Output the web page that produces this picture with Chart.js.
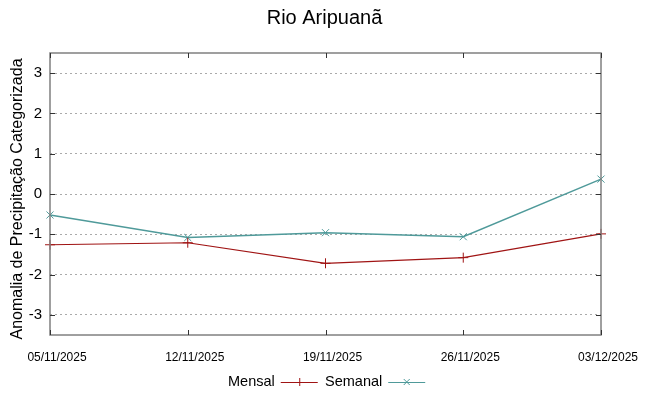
<!DOCTYPE html>
<html>
<head>
<meta charset="utf-8">
<script src="https://cdn.jsdelivr.net/npm/chart.js@4"></script>
<style>
html,body{margin:0;padding:0;background:#fff;}
#wrap{width:649px;height:396px;position:relative;}
</style>
</head>
<body>
<div id="wrap"><canvas id="c" width="649" height="396"></canvas></div>
<script>
const categories = ['05/11/2025','12/11/2025','19/11/2025','26/11/2025','03/12/2025'];
const mensal = [-1.26, -1.21, -1.72, -1.58, -0.99];
const semanal = [-0.52, -1.08, -0.96, -1.06, 0.37];
const yTicks = [-3, -2, -1, 0, 1, 2, 3];
const titleText = 'Rio Aripuanã';
const yTitle = 'Anomalia de Precipitação Categorizada';

const FONT = "'Liberation Sans', Arial, sans-serif";

const frame = {
  id: 'frame',
  afterDatasetsDraw(chart) {
    const {ctx, chartArea: a, scales} = chart;
    ctx.save();
    ctx.strokeStyle = '#808080';
    ctx.lineWidth = 1.5;
    ctx.strokeRect(a.left, a.top, a.right - a.left, a.bottom - a.top);
    ctx.strokeStyle = '#333';
    ctx.lineWidth = 1;
    ctx.beginPath();
    yTicks.forEach(v => {
      const y = Math.round(scales.y.getPixelForValue(v)) + 0.5;
      ctx.moveTo(a.left, y); ctx.lineTo(a.left + 5, y);
      ctx.moveTo(a.right, y); ctx.lineTo(a.right - 5, y);
    });
    categories.forEach((c, i) => {
      const x = Math.round(scales.x.getPixelForValue(i)) + 0.5;
      ctx.moveTo(x, a.bottom); ctx.lineTo(x, a.bottom - 5);
      ctx.moveTo(x, a.top); ctx.lineTo(x, a.top + 5);
    });
    ctx.stroke();
    ctx.restore();
  },
  afterDraw(chart) {
    const {ctx, chartArea: a} = chart;
    ctx.save();
    // y-axis title
    ctx.save();
    ctx.translate(18, (a.top + a.bottom) / 2 + 5);
    ctx.rotate(-Math.PI / 2);
    ctx.font = '16px ' + FONT;
    ctx.fillStyle = '#000';
    ctx.textAlign = 'center';
    ctx.textBaseline = 'middle';
    ctx.fillText(yTitle, 0, 0);
    ctx.restore();
    // legend
    ctx.font = '14.5px ' + FONT;
    ctx.fillStyle = '#000';
    ctx.textBaseline = 'middle';
    const y = 382;
    const starts = [228, 325];
    chart.data.datasets.forEach((ds, i) => {
      const x0 = starts[i];
      ctx.textAlign = 'left';
      ctx.fillText(ds.label, x0, y);
      const tw = ctx.measureText(ds.label).width;
      const lx = x0 + tw + 6;
      ctx.strokeStyle = ds.borderColor;
      ctx.lineWidth = 1;
      ctx.beginPath();
      ctx.moveTo(lx, y + 0.5); ctx.lineTo(lx + 37, y + 0.5);
      ctx.stroke();
      const cx = lx + 18.5;
      ctx.beginPath();
      if (ds.pointStyle === 'cross') {
        ctx.moveTo(cx - 4, y + 0.5); ctx.lineTo(cx + 4, y + 0.5);
        ctx.moveTo(cx + 0.5, y - 4); ctx.lineTo(cx + 0.5, y + 4);
      } else {
        ctx.moveTo(cx - 3, y - 3); ctx.lineTo(cx + 3, y + 3);
        ctx.moveTo(cx - 3, y + 3); ctx.lineTo(cx + 3, y - 3);
      }
      ctx.stroke();
    });
    ctx.restore();
  }
};

new Chart(document.getElementById('c'), {
  type: 'line',
  data: {
    labels: categories,
    datasets: [
      {label: 'Mensal', data: mensal, borderColor: '#a01414', backgroundColor: '#a01414',
       borderWidth: 1.2, pointStyle: 'cross', pointRadius: 5, pointBorderWidth: 1, tension: 0},
      {label: 'Semanal', data: semanal, borderColor: '#4f9a9a', backgroundColor: '#4f9a9a',
       borderWidth: 1.5, pointStyle: 'crossRot', pointRadius: 5, pointBorderWidth: 1, tension: 0}
    ]
  },
  options: {
    responsive: false,
    animation: false,
    layout: {padding: {left: 0, right: 0, top: 0, bottom: 35}},
    plugins: {
      legend: {display: false},
      tooltip: {enabled: false},
      title: {display: true, text: titleText, color: '#000',
              font: {family: FONT, size: 20, weight: 'normal'}, padding: {top: 6, bottom: 23}}
    },
    scales: {
      x: {
        type: 'category', offset: false,
        grid: {display: false, drawTicks: false},
        border: {display: false},
        ticks: {color: '#000', font: {family: FONT, size: 12}, padding: 15, maxRotation: 0, autoSkip: false, labelOffset: 7},
        afterFit(s) { s.height = 26; }
      },
      y: {
        min: -3.5, max: 3.5,
        afterBuildTicks(s) { s.ticks = yTicks.map(v => ({value: v})); },
        grid: {color: '#aaaaaa', lineWidth: 1, drawTicks: false},
        border: {display: false, dash: [2, 3]},
        ticks: {color: '#000', font: {family: FONT, size: 15}, padding: 8},
        title: {display: false},
        afterFit(s) { s.width = 50; }
      },
      yr: {
        position: 'right', display: true, min: -3.5, max: 3.5,
        grid: {display: false, drawTicks: false},
        border: {display: false},
        ticks: {display: false},
        afterFit(s) { s.width = 48; }
      }
    }
  },
  plugins: [frame]
});
</script>
</body>
</html>
